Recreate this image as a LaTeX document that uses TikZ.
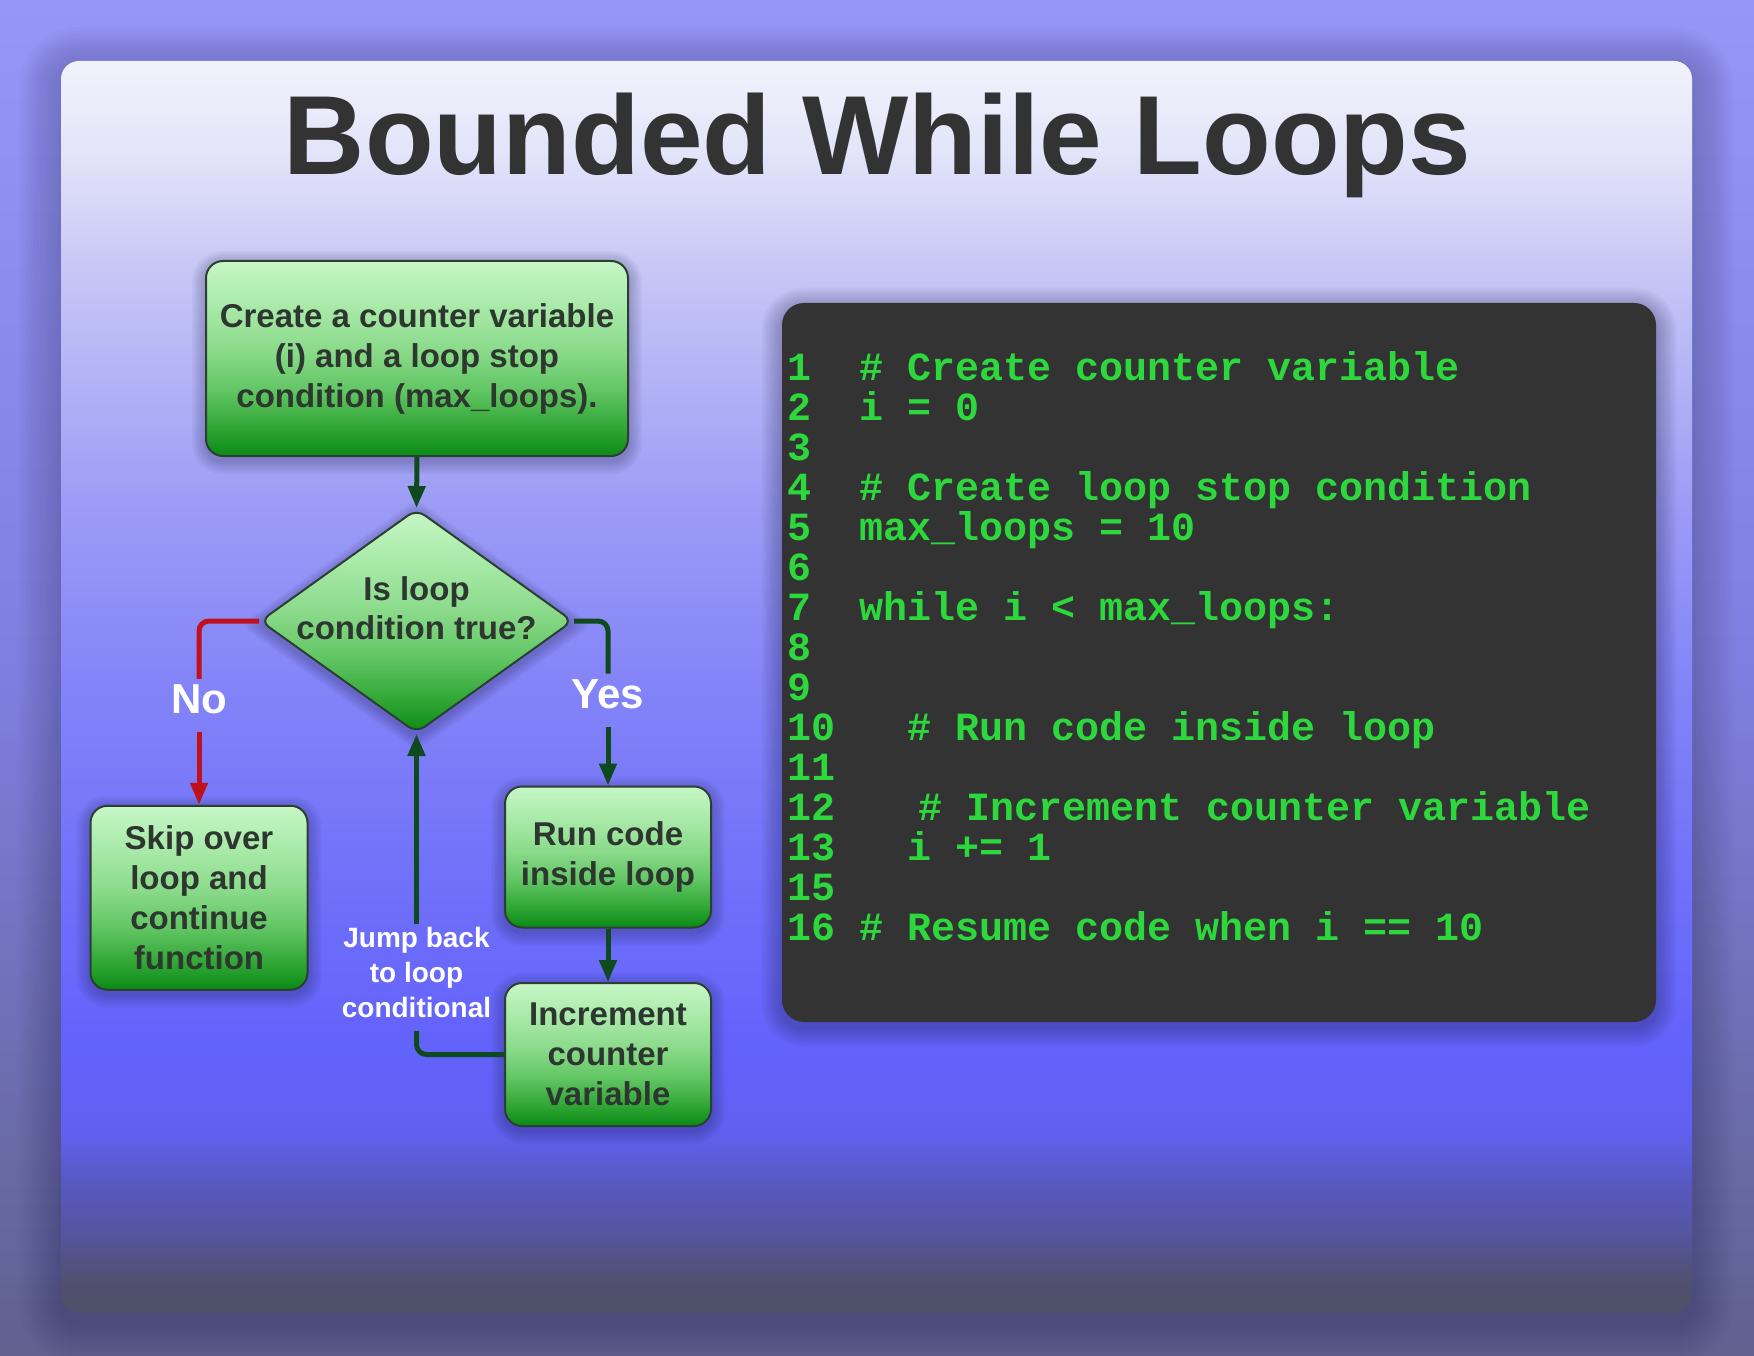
\documentclass[tikz,border=0pt]{standalone}
\usepackage{fontspec}
\setmainfont{Liberation Sans}
\newfontfamily\bwlMono{Liberation Mono}
\usetikzlibrary{arrows.meta,shapes.geometric}

\definecolor{txtdark}{HTML}{333333}
\definecolor{boxtxt}{HTML}{2E3630}
\definecolor{boxborder}{HTML}{2D3F33}
\definecolor{arrowgreen}{HTML}{0F4A1E}
\definecolor{arrowred}{HTML}{C0101C}
\definecolor{codegreen}{HTML}{2CD83C}
\definecolor{codebg}{HTML}{333333}
\definecolor{shadowcol}{HTML}{1A1A40}

\definecolor{ob0}{HTML}{60618E}
\definecolor{ob1}{HTML}{7E7EDF}
\definecolor{ob2}{HTML}{9696F6}
\pgfdeclareverticalshading{bwlouter}{100bp}{color(0bp)=(ob0); color(25bp)=(ob0); color(50bp)=(ob1); color(75bp)=(ob2); color(100bp)=(ob2)}

\definecolor{pb0}{HTML}{4F5068}
\definecolor{pb1}{HTML}{50506E}
\definecolor{pb2}{HTML}{5555A0}
\definecolor{pb3}{HTML}{5858C0}
\definecolor{pb4}{HTML}{6060F0}
\definecolor{pb5}{HTML}{6262FC}
\definecolor{pb6}{HTML}{6F6FFA}
\definecolor{pb7}{HTML}{8585F8}
\definecolor{pb8}{HTML}{9C9CF6}
\definecolor{pb9}{HTML}{C8C8F6}
\definecolor{pb10}{HTML}{E4E4FA}
\definecolor{pb11}{HTML}{F2F2FB}
\pgfdeclareverticalshading{bwlpanel}{100bp}{color(0bp)=(pb0); color(25bp)=(pb0); color(26.2bp)=(pb1); color(28.2bp)=(pb2); color(30.2bp)=(pb3); color(32.2bp)=(pb4); color(35.5bp)=(pb5); color(41.7bp)=(pb6); color(50.6bp)=(pb7); color(57.3bp)=(pb8); color(67bp)=(pb9); color(71.4bp)=(pb10); color(75bp)=(pb11); color(100bp)=(pb11)}

\definecolor{gs0}{HTML}{0A8A16}
\definecolor{gs1}{HTML}{2FA534}
\definecolor{gs2}{HTML}{62C664}
\definecolor{gs3}{HTML}{8ADA8A}
\definecolor{gs4}{HTML}{A8E9A8}
\definecolor{gs5}{HTML}{C6F7C6}
\pgfdeclareverticalshading{bwlgreen}{100bp}{color(0bp)=(gs0); color(25bp)=(gs0); color(32bp)=(gs1); color(42bp)=(gs2); color(52bp)=(gs3); color(63bp)=(gs4); color(75bp)=(gs5); color(100bp)=(gs5)}

\newcommand\bwlBoxFont{\bfseries\fontsize{33}{40}\selectfont}
\newcommand\bwlDiamFont{\bfseries\fontsize{33}{39}\selectfont}
\newcommand\bwlLblFont{\bfseries\fontsize{42}{48}\selectfont}
\newcommand\bwlJumpFont{\bfseries\fontsize{28}{35}\selectfont}
\newcommand\bwlCodeFont{\bwlMono\bfseries\fontsize{40}{40}\selectfont}
\newcommand\bwlTitleFont{\bfseries\fontsize{112.5}{120}\selectfont}

% soft shadow: x1,y1,x2,y2,radius,layers,step,opacity,yoffset
\newcommand\bwlShadow[9]{%
  \foreach \k in {1,...,#6}{%
    \pgfmathsetmacro\bwlR{#5+#7*\k}%
    \fill[shadowcol, opacity=#8, rounded corners=\bwlR pt]
      ({#1-#7*\k},{#2-#7*\k+#9}) rectangle ({#3+#7*\k},{#4+#7*\k+#9});
  }%
}

\begin{document}
\begin{tikzpicture}[x=1pt, y=-1pt,
  gbox/.style={shape=rectangle, draw=boxborder, line width=2pt, rounded corners=17pt,
    shade, shading=bwlgreen, text=boxtxt, font=\bwlBoxFont, align=center, inner sep=0pt},
  gdiam/.style={shape=diamond, draw=boxborder, line width=2pt, rounded corners=10pt,
    shade, shading=bwlgreen, text=boxtxt, font=\bwlDiamFont, inner sep=0pt,
    minimum width=313pt, minimum height=224pt},
  lbl/.style={text=white, font=\bwlLblFont, inner sep=0pt, anchor=base},
  jlbl/.style={text=white, font=\bwlJumpFont, align=center, inner sep=0pt},
  link/.style={draw=arrowgreen, line width=5pt, rounded corners=10pt},
  nolink/.style={draw=arrowred, line width=5pt, rounded corners=10pt},
  arrhead/.style={-{Triangle[length=22pt,width=17pt]}},
  codeln/.style={anchor=base west, inner sep=0pt, text=codegreen, font=\bwlCodeFont},
  ttl/.style={anchor=base, inner sep=0pt, text=txtdark, font=\bwlTitleFont}
]
\useasboundingbox (0,0) rectangle (1754,1356);
\shade[shading=bwlouter] (0,0) rectangle (1754,1356);

% main panel
\bwlShadow{61}{61}{1692}{1313}{18}{12}{3.5}{0.018}{8}
\shade[shading=bwlpanel, rounded corners=18pt] (61,61) rectangle (1692,1313);

% title
\node[ttl] (title) at (877.5,175) {Bounded While Loops};

% code panel
\bwlShadow{782}{303}{1656}{1022}{22}{8}{2.5}{0.04}{5}
\fill[codebg, rounded corners=22pt] (782,303) rectangle (1656,1022);

% shadows of flowchart shapes
\bwlShadow{206}{261}{628}{456}{17}{7}{2}{0.04}{4}
\bwlShadow{90.5}{805.75}{307.5}{989.75}{17}{7}{2}{0.04}{4}
\bwlShadow{505}{786.5}{711}{927.5}{17}{7}{2}{0.04}{4}
\bwlShadow{505}{983}{711}{1126}{17}{7}{2}{0.04}{4}
\foreach \k in {1,...,7}{
  \fill[shadowcol, opacity=0.04, rounded corners=10pt]
    (416.5,{509-2*\k+4}) -- ({573+2.8*\k},625) -- (416.5,{733+2*\k+4}) -- ({260-2.8*\k},625) -- cycle;
}

% flowchart nodes
\node[gbox, minimum width=422pt, minimum height=195pt] (box1) at (417,358.5)
  {Create a counter variable\\(i) and a loop stop\\condition (max\_loops).};
\node[gdiam] (dia) at (416.5,621)
  {\smash{\makebox[0pt]{\raisebox{20.4pt}{\begin{tabular}[t]{@{}c@{}}Is loop\\condition true?\end{tabular}}}}};
\node[gbox, minimum width=217pt, minimum height=184pt] (skip) at (199,897.75)
  {Skip over\\loop and\\continue\\function};
\node[gbox, minimum width=206pt, minimum height=141pt] (run) at (608,857)
  {Run code\\inside loop};
\node[gbox, minimum width=206pt, minimum height=143pt] (inc) at (608,1054.5)
  {Increment\\counter\\variable};

% labels
\node[lbl] (nolbl) at (199,713) {No};
\node[lbl] (yeslbl) at (608,708.3) {Yes};
\node[jlbl] (jl) at (416.5,972.6) {Jump back\\to loop\\conditional};

% connectors
\draw[link, arrhead] (box1.south) -- (dia.north);
\draw[nolink] (dia.west) -| ([yshift=5pt]nolbl.north);
\draw[nolink, arrhead] ([yshift=-18.7pt]nolbl.south) -- (skip.north);
\draw[link] (dia.east) -| ([yshift=5.6pt]yeslbl.north);
\draw[link, arrhead] ([yshift=-18.4pt]yeslbl.south) -- (run.north);
\draw[link, arrhead] (run.south) -- (inc.north);
\draw[link] (inc.west) -| ([yshift=-13pt]jl.south);
\draw[link, arrhead] ([yshift=3pt]jl.north) -- (dia.south);

% code
\node[codeln] (n1) at (787,380) {1};
\node[codeln] (n2) at (787,420) {2};
\node[codeln] (n3) at (787,460) {3};
\node[codeln] (n4) at (787,500) {4};
\node[codeln] (n5) at (787,540) {5};
\node[codeln] (n6) at (787,580) {6};
\node[codeln] (n7) at (787,620) {7};
\node[codeln] (n8) at (787,660) {8};
\node[codeln] (n9) at (787,700) {9};
\node[codeln] (n10) at (787,740) {10};
\node[codeln] (n11) at (787,780) {11};
\node[codeln] (n12) at (787,820) {12};
\node[codeln] (n13) at (787,860) {13};
\node[codeln] (n15) at (787,900) {15};
\node[codeln] (n16) at (787,940) {16};

\node[codeln] (c1) at (859,380) {\# Create counter variable};
\node[codeln] (c2) at (859,420) {i = 0};
\node[codeln] (c4) at (859,500) {\# Create loop stop condition};
\node[codeln] (c5) at (859,540) {max\_loops = 10};
\node[codeln] (c7) at (859,620) {while i < max\_loops:};
\node[codeln] (c10) at (907,740) {\# Run code inside loop};
\node[codeln] (c12) at (918.5,820) {\# Increment counter variable};
\node[codeln] (c13) at (907,860) {i += 1};
\node[codeln] (c16) at (859,940) {\# Resume code when i == 10};
\end{tikzpicture}
\end{document}
